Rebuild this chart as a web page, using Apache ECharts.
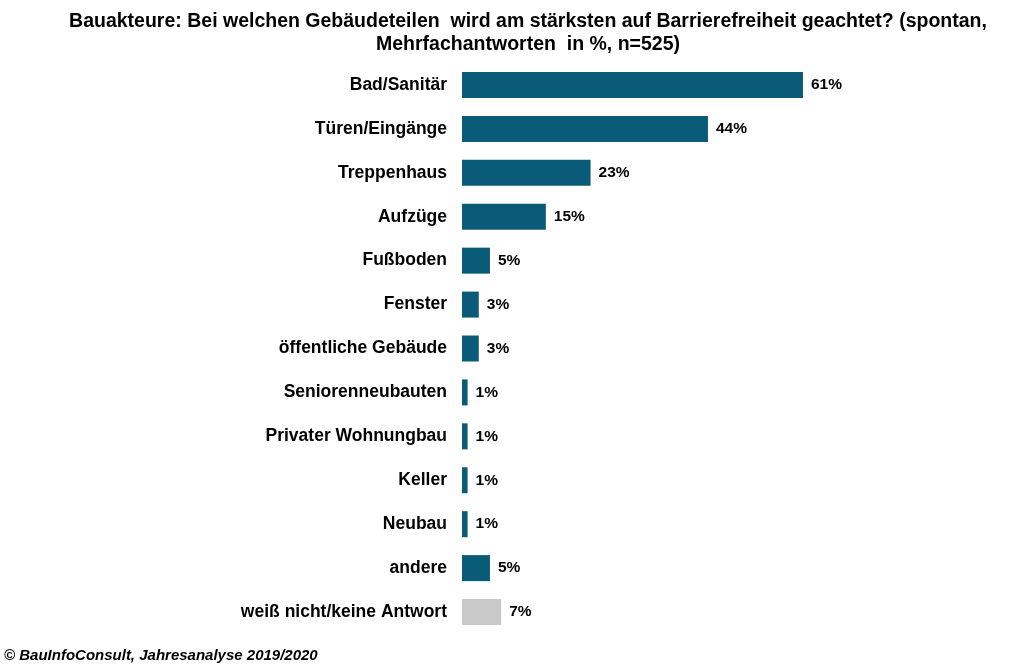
<!DOCTYPE html>
<html>
<head>
<meta charset="UTF-8">
<script src="https://cdn.jsdelivr.net/npm/echarts@6/dist/echarts.min.js"></script>
<style>body{margin:0;background:#fff}#c{width:1034px;height:670px}</style>
</head>
<body>
<div id="c"></div>
<script>
    var categories = ['Bad/Sanitär','Türen/Eingänge','Treppenhaus','Aufzüge','Fußboden','Fenster','öffentliche Gebäude','Seniorenneubauten','Privater Wohnungbau','Keller','Neubau','andere','weiß nicht/keine Antwort'];
    var values = [61,44,23,15,5,3,3,1,1,1,1,5,7];
    var colors = ['#0a5b78','#0a5b78','#0a5b78','#0a5b78','#0a5b78','#0a5b78','#0a5b78','#0a5b78','#0a5b78','#0a5b78','#0a5b78','#0a5b78','#c9c9c9'];

    var chart = echarts.init(document.getElementById('c'));
    chart.setOption({
        animation: false,
        title: {
            text: 'Bauakteure: Bei welchen Gebäudeteilen  wird am stärksten auf Barrierefreiheit geachtet? (spontan,\nMehrfachantworten  in %, n=525)',
            left: 523, top: 5, textAlign: 'center',
            textStyle: {fontFamily: 'Liberation Sans', fontSize: 19.5, fontWeight: 'bold', color: '#000', lineHeight: 23}
        },
        graphic: [{
            type: 'text', left: 4, top: 648,
            style: {text: '© BauInfoConsult, Jahresanalyse 2019/2020', font: 'italic bold 15px Liberation Sans', fill: '#000'}
        }],
        grid: {left: 462, right: 13, top: 63, bottom: 36},
        xAxis: {type: 'value', min: 0, max: 100, show: false},
        yAxis: {
            type: 'category', inverse: true, data: categories,
            axisLine: {show: false}, axisTick: {show: false},
            axisLabel: {margin: 15, color: '#000', fontFamily: 'Liberation Sans', fontSize: 17.5, fontWeight: 'bold'}
        },
        series: [{
            type: 'bar', barWidth: 26,
            data: values.map(function (v, i) { return {value: v, itemStyle: {color: colors[i]}}; }),
            label: {show: true, position: 'right', distance: 8, formatter: '{c}%', color: '#000',
                fontFamily: 'Liberation Sans', fontSize: 15.5, fontWeight: 'bold'}
        }]
    });
</script>
</body>
</html>
